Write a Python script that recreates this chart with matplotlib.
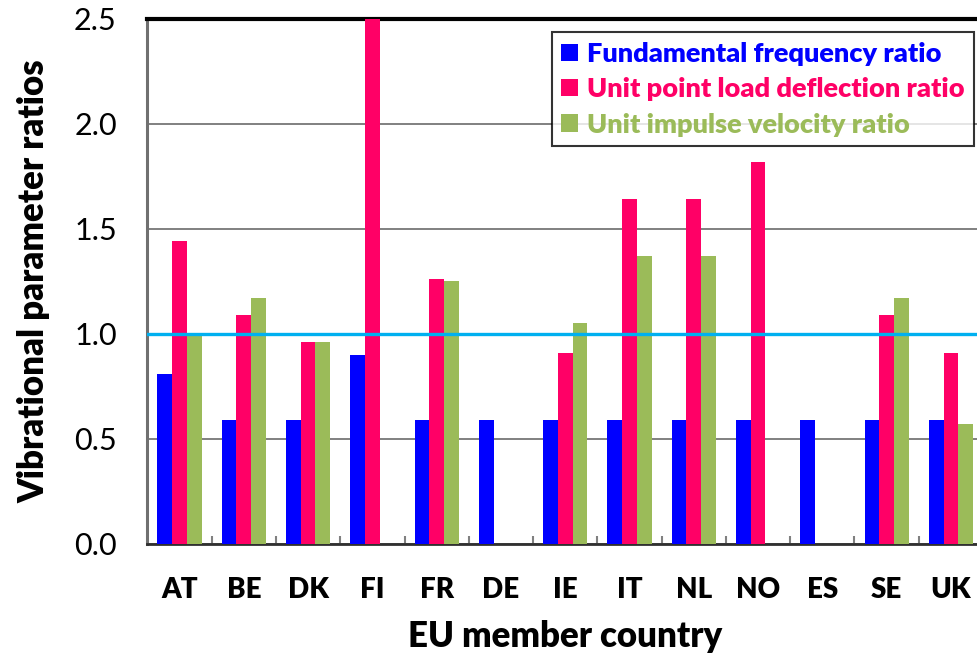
import matplotlib
matplotlib.use("Agg")
import matplotlib.pyplot as plt
import numpy as np
from matplotlib.ticker import MultipleLocator, FixedLocator, FormatStrFormatter

countries = ["AT", "BE", "DK", "FI", "FR", "DE", "IE", "IT", "NL", "NO", "ES", "SE", "UK"]
freq_ratio = [0.81, 0.59, 0.59, 0.90, 0.59, 0.59, 0.59, 0.59, 0.59, 0.59, 0.59, 0.59, 0.59]
defl_ratio = [1.44, 1.09, 0.96, 2.50, 1.26, np.nan, 0.91, 1.64, 1.64, 1.82, np.nan, 1.09, 0.91]
vel_ratio = [1.00, 1.17, 0.96, np.nan, 1.25, np.nan, 1.05, 1.37, 1.37, np.nan, np.nan, 1.17, 0.57]
series_names = ["Fundamental frequency ratio", "Unit point load deflection ratio", "Unit impulse velocity ratio"]
colors = ["#0000FF", "#FF0066", "#9BBB59"]

plt.rcParams['font.family'] = ['Lato', 'DejaVu Sans']
BW = 'heavy'

fig = plt.figure(figsize=(9.77, 6.59), dpi=100)
ax = fig.add_axes([0.1509, 0.175, 0.8553, 0.7966])

x = np.arange(len(countries))
w = 0.229
for i, (vals, c, name) in enumerate(zip([freq_ratio, defl_ratio, vel_ratio], colors, series_names)):
    ax.bar(x + (i - 1) * w, vals, width=w, color=c, label=name, zorder=3)

ax.set_xlim(-0.5, len(countries) - 0.5)
ax.set_ylim(0, 2.5)
ax.yaxis.set_major_locator(MultipleLocator(0.5))
ax.yaxis.set_major_formatter(FormatStrFormatter('%.1f'))
ax.grid(axis='y', color='#808080', linewidth=1.4, zorder=0)
ax.axhline(1.0, color='#00B0F0', linewidth=2.4, zorder=4)

ax.set_xticks(x)
ax.set_xticklabels(countries, fontsize=20, fontweight=BW)
ax.tick_params(axis='x', which='major', length=0, pad=24)
ax.xaxis.set_minor_locator(FixedLocator(np.arange(0.5, len(countries) - 0.5, 1)))
ax.tick_params(axis='x', which='minor', direction='in', length=6, width=1.5, color='#808080')
ax.tick_params(axis='y', which='major', length=0, pad=22, labelsize=22)

ax.spines['top'].set_linewidth(3)
ax.spines['top'].set_color('black')
ax.spines['left'].set_linewidth(2.2)
ax.spines['left'].set_color('#707070')
ax.spines['bottom'].set_linewidth(2)
ax.spines['bottom'].set_color('#303030')
ax.spines['right'].set_visible(False)

ax.set_ylabel("Vibrational parameter ratios", fontsize=25, fontweight=BW, labelpad=17)
ax.set_xlabel("EU member country", fontsize=25, fontweight=BW, labelpad=12)

leg = ax.legend(loc='upper right', bbox_to_anchor=(0.9895, 0.974),
                prop={'weight': BW, 'size': 19.5}, frameon=True, fancybox=False,
                handlelength=0.6, handleheight=0.6, handletextpad=0.35,
                labelspacing=0.42, borderpad=0.35, borderaxespad=0)
leg.get_frame().set_edgecolor('black')
leg.get_frame().set_linewidth(1.5)
for t, c in zip(leg.get_texts(), colors):
    t.set_color(c)
leg.set_zorder(10)

fig.savefig("out.png", dpi=100)
